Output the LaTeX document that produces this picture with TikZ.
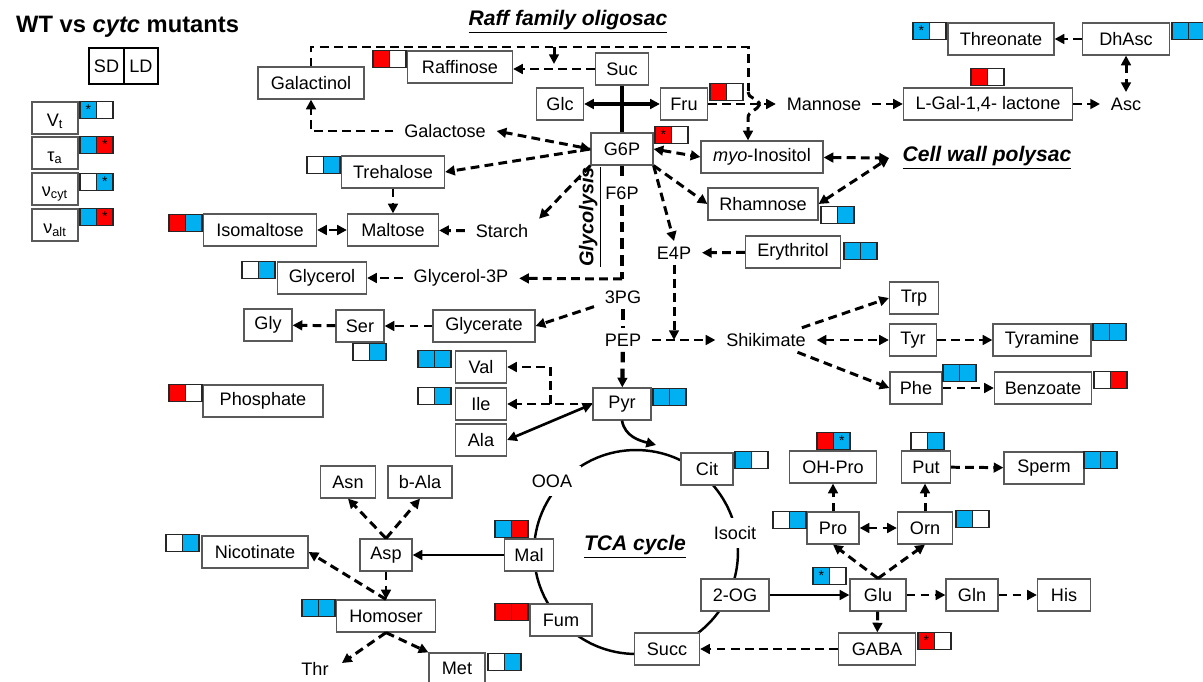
\documentclass[tikz,border=0pt]{standalone}
\usepackage{fontspec}
\setmainfont{Liberation Sans}
\usetikzlibrary{arrows.meta}
\definecolor{mblue}{RGB}{0,176,240}
\definecolor{mred}{RGB}{255,0,0}

\begin{document}
\begin{tikzpicture}[x=0.02cm, y=-0.02cm,
    >={Triangle[length=5.5pt,width=5.5pt]},
    every node/.style={font=\fontsize{10.3}{12}\selectfont},
    mbox/.style={draw=black!65, fill=white, line width=0.7pt, minimum height=0.64cm, inner sep=0pt},
    bw/.style={minimum width=#1*0.02cm},
    txt/.style={inner xsep=6pt, inner ysep=3pt},
    hdr/.style={font=\fontsize{12}{14}\selectfont\bfseries\itshape},
    cell/.style={draw=black!85, line width=0.7pt, minimum size=0.33cm, inner sep=0pt},
    cb/.style={cell, fill=mblue},
    cr/.style={cell, fill=mred},
    cw/.style={cell, fill=white},
    ast/.style={path picture={\node[font=\fontsize{8}{8}\selectfont, inner sep=0pt] at (path picture bounding box.center) {*};}},
    cbs/.style={cb, ast},
    crs/.style={cr, ast},
    dline/.style={line width=1.7pt, dash pattern=on 5pt off 3pt},
    dflow/.style={dline, ->},
    glyc/.style={line width=2.4pt, dash pattern=on 6pt off 3.5pt},
    sflow/.style={line width=1.5pt, ->},
    tcaline/.style={line width=1.4pt}
]
\useasboundingbox (0,0) rectangle (1203,682);

% TCA cycle ring, under the boxes
\coordinate (tcac) at (636,552);
\draw[tcaline] (tcac) circle[radius=2.04cm];

% legend
\node[anchor=west, font=\fontsize{13.5}{16}\selectfont\bfseries] (title) at (10,27) {WT vs \textit{cytc} mutants};
\node[mbox, bw=35, minimum height=0.72cm, draw=black] (sd) at (106.5,66) {SD};
\node[mbox, bw=34, minimum height=0.72cm, draw=black] (ld) at (141,66) {LD};
\node[mbox, bw=46, text height=11pt] (vt) at (55,118) {V\textsubscript{t}};
\node[mbox, bw=46, text height=11pt] (taua) at (55,153) {τ\textsubscript{a}};
\node[mbox, bw=46, text height=11pt] (nucyt) at (55,189) {ν\textsubscript{cyt}};
\node[mbox, bw=46, text height=11pt] (nualt) at (55,225) {ν\textsubscript{alt}};

% headings
\node[hdr] (raff) at (568,22) {\underline{Raff family oligosac}};
\node[hdr] (cellwall) at (987,158) {\underline{Cell wall polysac}};
\node[hdr] (tca) at (635,547) {\underline{TCA cycle}};
\node[font=\fontsize{11.3}{13}\selectfont\bfseries\itshape, rotate=90] (glycolysis) at (590,217) {\underline{Glycolysis}};

% sugars
\node[mbox, bw=106] (galactinol) at (311,83) {Galactinol};
\node[mbox, bw=105] (raffinose) at (460,67) {Raffinose};
\node[mbox, bw=53] (suc) at (622,69) {Suc};
\node[mbox, bw=47] (glc) at (560,104) {Glc};
\node[mbox, bw=47] (fru) at (684,104) {Fru};
\node[mbox, bw=62] (g6p) at (622,149) {G6P};
\node[mbox, bw=169] (lgal) at (988,104) {L-Gal-1,4- lactone};
\node[mbox, bw=87] (dhasc) at (1126,39) {DhAsc};
\node[mbox, bw=106] (threonate) at (1001,39) {Threonate};
\node[mbox, bw=122] (myo) at (762,157) {\textit{myo}-Inositol};
\node[mbox, bw=110] (rhamnose) at (763,204) {Rhamnose};
\node[mbox, bw=95] (erythritol) at (793,252) {Erythritol};
\node[mbox, bw=103] (trehalose) at (393,172) {Trehalose};
\node[mbox, bw=113] (isomaltose) at (260,230) {Isomaltose};
\node[mbox, bw=91] (maltose) at (393,230) {Maltose};
\node[mbox, bw=89] (glycerol) at (322,278) {Glycerol};
\node[mbox, bw=102] (glycerate) at (484,326) {Glycerate};
\node[mbox, bw=48] (ser) at (360,326) {Ser};
\node[mbox, bw=48] (gly) at (268,325) {Gly};
\node[mbox, bw=120] (phosphate) at (263,401) {Phosphate};

% amino acids
\node[mbox, bw=51] (val) at (481,367) {Val};
\node[mbox, bw=51] (ile) at (481,404) {Ile};
\node[mbox, bw=51] (ala) at (481,440) {Ala};
\node[mbox, bw=58] (pyr) at (622,404) {Pyr};
\node[mbox, bw=49] (trp) at (914,298) {Trp};
\node[mbox, bw=47] (tyr) at (913,340) {Tyr};
\node[mbox, bw=52] (phe) at (916,388) {Phe};
\node[mbox, bw=98] (tyramine) at (1042,340) {Tyramine};
\node[mbox, bw=97] (benzoate) at (1043,388) {Benzoate};
\node[mbox, bw=52] (cit) at (707,469) {Cit};
\node[mbox, bw=87] (ohpro) at (833,467) {OH-Pro};
\node[mbox, bw=49] (put) at (926,467) {Put};
\node[mbox, bw=80] (sperm) at (1044,468) {Sperm};
\node[mbox, bw=52] (pro) at (833,528) {Pro};
\node[mbox, bw=55] (orn) at (925,528) {Orn};
\node[mbox, bw=56] (glu) at (878,595) {Glu};
\node[mbox, bw=68] (twoog) at (735,595) {2-OG};
\node[mbox, bw=65] (succ) at (667,649) {Succ};
\node[mbox, bw=77] (gaba) at (877,649) {GABA};
\node[mbox, bw=52] (gln) at (972,595) {Gln};
\node[mbox, bw=53] (his) at (1064,595) {His};
\node[mbox, bw=49] (mal) at (529,555) {Mal};
\node[mbox, bw=52] (asp) at (386,555) {Asp};
\node[mbox, bw=62] (fum) at (561,620) {Fum};
\node[mbox, bw=55] (asn) at (348,482) {Asn};
\node[mbox, bw=64] (bala) at (420,482) {b-Ala};
\node[mbox, bw=99] (homoser) at (386,616) {Homoser};
\node[mbox, bw=106] (nicotinate) at (255,552) {Nicotinate};
\node[mbox, bw=56, minimum height=0.6cm] (met) at (457,668) {Met};

% plain labels
\node[txt] (galactose) at (445,131) {Galactose};
\node[txt] (mannose) at (824,104) {Mannose};
\node[txt] (asc) at (1126,104) {Asc};
\node[txt] (starch) at (502,231) {Starch};
\node[txt] (glycerolp) at (461,278) {Glycerol-3P};
\node[txt] (f6p) at (622,193) {F6P};
\node[txt] (e4p) at (674,253) {E4P};
\node[txt] (pg) at (623,297) {3PG};
\node[txt] (pep) at (623,340) {PEP};
\node[txt] (shikimate) at (766,340) {Shikimate};
\node[txt, fill=white, inner sep=5pt] (ooa) at (552,481) {OOA};
\node[txt, fill=white, inner sep=5pt] (isocit) at (735,533) {Isocit};
\node[txt] (thr) at (315,669) {Thr};

% SD / LD colour pairs
\foreach \px/\py/\lc/\rc [count=\i] in {
  80/102/cbs/cw, 80/137/cb/crs, 80/174/cw/cbs, 80/209/cb/crs,
  373/51/cr/cw, 710/84/cr/cw, 655/127/crs/cw, 971/69/cr/cw,
  913/23/cbs/cw, 1172/23/cb/cb, 307/157/cw/cb, 169/215/cr/cb,
  821/207/cw/cb, 844/243/cb/cb, 242/262/cw/cb, 353/344/cw/cb,
  418/351/cb/cb, 418/388/cw/cb, 653/389/cb/cb, 169/385/cr/cw,
  1093/324/cb/cb, 943/365/cb/cb, 1094/372/cw/cr, 817/433/cr/cbs,
  911/433/cw/cb, 1084/452/cb/cb, 735/452/cb/cw, 773/512/cw/cb,
  956/511/cb/cw, 495/521/cb/cr, 495/604/cr/cr, 813/568/cbs/cw,
  918/633/crs/cw, 166/535/cw/cb, 302/600/cb/cb, 488/654/cw/cb}
{
  \node[\lc] (l\i) at (\px+8.25,\py+8) {};
  \node[\rc] (r\i) at (\px+24.75,\py+8) {};
}

% raffinose family and top branch
\coordinate (rfo) at (748,47);
\coordinate (jt) at (748,92);
\coordinate (jn) at (760,104);
\coordinate (jb) at (748,118);
\coordinate (rdrop) at (554,47);
\coordinate (cwall) at (889,158);
\draw[dline] (galactinol.north) |- (rfo) -- (jt);
\draw[dline] (jt) to[out=-90,in=110] (jn);
\draw[dflow] (jn) to[out=250,in=90] (jb) -- (jb |- myo.north);
\draw[dflow] (rdrop) -- ++(0,17);
\draw[dflow] (suc.west) -- (suc.west -| raffinose.east);
\draw[line width=2pt] (suc) -- (g6p);
\draw[<->, line width=1.8pt] (glc) -- (fru);
\draw[dflow] (fru) -- (mannose);
\draw[dflow] (mannose) -- (lgal);
\draw[dflow] (lgal) -- (asc);
\draw[dflow] (dhasc) -- (threonate);
\draw[dflow, <->] (dhasc) -- (asc);
\draw[dflow, <->] (g6p.east) -- (myo.west);
\draw[dflow, <->] (myo) -- (cwall);
\draw[dflow, <->] (rhamnose.east) -- (cwall);
\draw[dflow] (g6p.south east) -- (rhamnose.west);
\draw[dflow] (g6p.south east) -- (e4p.north);
\draw[dflow] (erythritol) -- (e4p);
\draw[dflow] (e4p) -- (e4p |- pep);
\draw[dflow] (pep) -- (shikimate);
\draw[dflow] (shikimate) -- (trp.west);
\draw[dflow, <->] (shikimate) -- (tyr);
\draw[dflow] (shikimate) -- (phe.west);
\draw[dflow] (tyr) -- (tyramine);
\draw[dflow] (phe) -- (benzoate);

% glycolysis and side branches
\coordinate (gc) at (622,279);
\draw[glyc] (g6p) -- (f6p);
\draw[glyc] (f6p) -- (gc);
\draw[dflow] (gc) -- (glycerolp);
\draw[glyc] (pg) -- (pep);
\draw[glyc, ->] (pep) -- (pyr);
\draw[dflow] (pg) -- (glycerate.east);
\draw[dflow] (glycerate) -- (ser);
\draw[dflow] (ser) -- (gly);
\draw[dflow] (glycerolp) -- (glycerol);
\draw[dflow] (g6p.south west) -- (starch.north east);
\draw[dflow] (starch) -- (maltose);
\draw[dflow, <->] (maltose) -- (isomaltose);
\draw[dflow] (trehalose) -- (maltose);
\draw[dflow] (g6p.west) -- (trehalose.east);
\draw[dflow, <->] (g6p.west) -- (galactose.east);
\draw[dflow] (galactose.west) -| (galactinol.south);

% pyruvate
\coordinate (vb) at (550,404);
\coordinate (pc) at (656,445);
\draw[dflow] (pyr) -- (ile);
\draw[dflow] (vb) |- (val.east);
\draw[<->, line width=1.5pt] (pyr.west) -- (ala.east);
\draw[sflow] (pyr.south) to[out=-80,in=165] (pc);

% TCA side
\coordinate (thrtip) at (342,663);
\draw[sflow] (mal) -- (asp);
\draw[dflow] (asp.north) -- (asn.south);
\draw[dflow] (asp.north) -- (bala.south);
\draw[dflow] (asp) -- (homoser);
\draw[dflow] (homoser.north) -- (nicotinate.east);
\draw[dflow] (homoser.south) -- (thrtip);
\draw[dflow] (homoser.south) -- (met.north west);
\draw[sflow] (twoog) -- (glu);
\draw[dflow] (glu) -- (gaba);
\draw[dflow] (gaba) -- (succ);
\draw[dflow] (glu) -- (gln);
\draw[dflow] (gln) -- (his);
\draw[dflow] (glu.north) -- (pro.south);
\draw[dflow] (glu.north) -- (orn.south);
\draw[dflow, <->] (pro) -- (orn);
\draw[dflow] (pro) -- (ohpro);
\draw[dflow] (orn.north) -- (orn.north |- put.south);
\draw[dflow] (put) -- (sperm);
\end{tikzpicture}
\end{document}
